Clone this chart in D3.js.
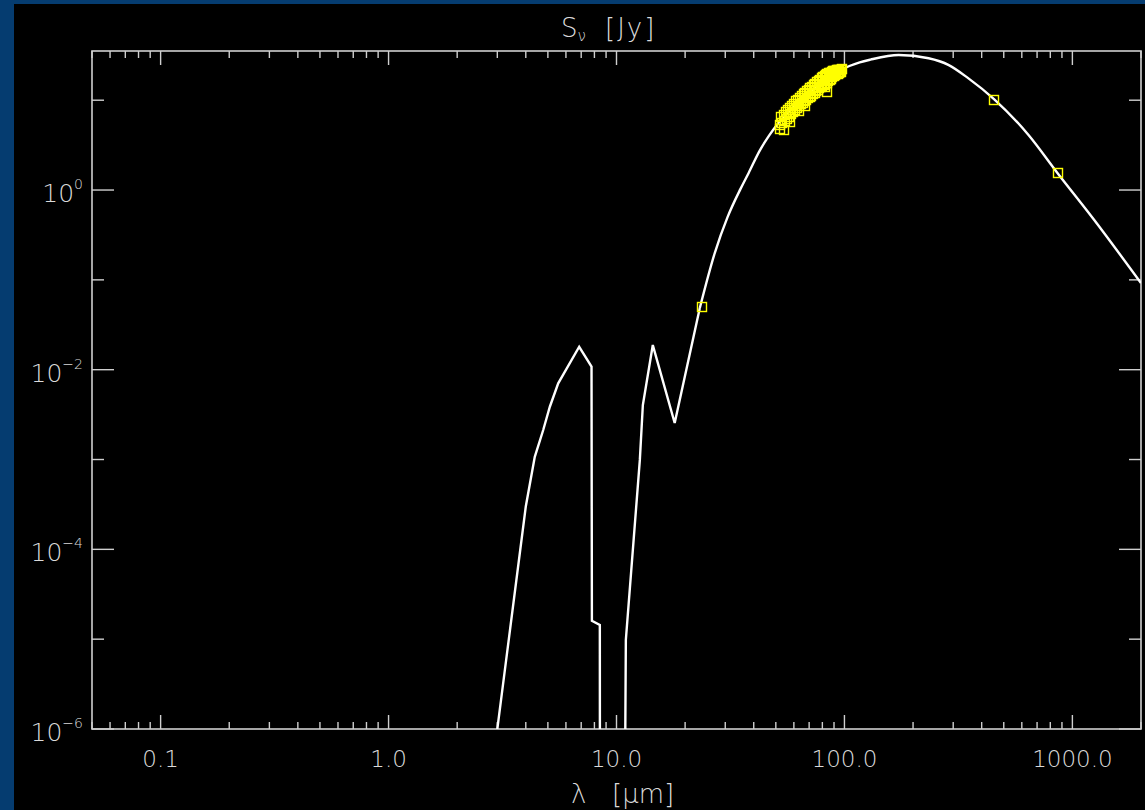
<!DOCTYPE html>
<html lang="en">
<head>
<meta charset="UTF-8">
<title>SED</title>
<script src="https://cdn.jsdelivr.net/npm/d3@7"></script>
<style>
  html, body { margin: 0; padding: 0; background: #053c70; }
  svg { display: block; }
  .lbl { font-family: "DejaVu Sans", "Liberation Sans", sans-serif; font-weight: 200; fill: #dadada; }
</style>
</head>
<body>
<svg id="chart" width="1145" height="810"></svg>
<script>
// model SED (wavelength in micron, flux in Jy)
const lambdaModel = [2.95, 3.0, 4.0, 4.38, 4.77, 5.1, 5.55, 6.86, 7.77, 7.8, 8.45, 8.47,
  10.75, 10.99, 12.66, 13.05, 14.43, 18.0, 23.2, 27.0, 30.7, 35, 38, 42.5, 46.7, 50.4, 58, 64.8, 72, 80, 90,
  97.9, 116.7, 130, 173, 234, 287, 350, 453, 642, 858, 1247, 2000];
const fluxModel = [1e-8, 1e-6, 3e-4, 1.07e-3, 2.13e-3, 3.87e-3, 7.05e-3, 1.8e-2, 1.08e-2, 1.6e-5, 1.44e-5, 1e-9,
  1e-9, 9.8e-6, 9.9e-4, 4.04e-3, 1.88e-2, 2.55e-3, 4.86e-2, 0.2, 0.5, 1.03, 1.55, 2.75, 4.03, 5.27, 7.8, 10.2, 12.8, 15.7, 19.4,
  22.1, 26.4, 28.3, 31.8, 29.3, 24.6, 17.5, 10.3, 4.1, 1.56, 0.464, 0.092];

// observed photometry (24, 450, 850 micron) and far-IR spectrum points
const lambdaObs = [23.7, 453, 858,
  52.0, 52.6, 53.2, 53.8, 54.4, 55.0, 55.6, 56.2, 56.8, 57.4, 58.0, 58.6, 59.2, 59.8, 60.4, 61.0,
  61.6, 62.2, 62.8, 63.4, 64.0, 64.6, 65.2, 65.8, 66.4, 67.0, 67.6, 68.2, 68.8, 69.4, 70.0, 70.6,
  71.2, 71.8, 72.4, 73.0, 73.6, 74.2, 74.8, 75.4, 76.0, 76.6, 77.2, 77.8, 78.4, 79.0, 79.6, 80.2,
  80.8, 81.4, 82.0, 82.6, 83.2, 83.8, 84.4, 85.0, 85.6, 86.2, 86.8, 87.4, 88.0, 88.6, 89.2, 89.8,
  90.4, 91.0, 91.6, 92.2, 92.8, 93.4, 94.0, 94.6, 95.2, 95.8, 96.4, 97.0,
  83.4, 82.0, 67.0, 62.6, 57.6, 53.8, 52.1];
const fluxObs = [0.05, 10.3, 1.56,
  5.4, 6.6, 5.7, 7.0, 6.0, 7.4, 6.3, 7.9, 6.6, 8.3, 7.2, 8.8, 7.5, 9.3, 7.9, 9.8,
  8.3, 10.3, 8.7, 10.8, 9.1, 11.3, 9.5, 11.8, 9.9, 12.3, 10.3, 12.8, 10.7, 13.3, 11.0, 13.8,
  11.4, 14.3, 11.8, 14.8, 12.3, 15.4, 12.8, 16.0, 13.2, 16.6, 13.7, 17.2, 14.1, 17.8, 14.6, 18.4,
  15.0, 18.9, 15.5, 19.4, 15.9, 19.8, 16.5, 20.2, 17.0, 20.6, 17.6, 20.9, 18.2, 21.2, 18.8, 21.4,
  19.3, 21.6, 19.7, 21.8, 20.0, 22.0, 20.4, 22.1, 20.7, 22.2, 21.0, 22.3,
  12.4, 14.1, 8.84, 7.77, 5.76, 4.66, 4.86];

const xMajor = [0.1, 1, 10, 100, 1000];
const xMajorLabels = ["0.1", "1.0", "10.0", "100.0", "1000.0"];
const yMajor = [1, 1e-2, 1e-4, 1e-6];
const yMajorExp = ["0", "\u22122", "\u22124", "\u22126"];
const yMinor = [10, 0.1, 1e-3, 1e-5];

const svg = d3.select("#chart");
const box = { left: 92, right: 1141, top: 51, bottom: 729 };

svg.append("rect").attr("x", 14).attr("y", 4).attr("width", 1131).attr("height", 806).attr("fill", "#000");

const x = d3.scaleLog().domain([0.05, 2000]).range([box.left, box.right]);
const y = d3.scaleLog().domain([1e-6, 35.3]).range([box.bottom, box.top]);

svg.append("clipPath").attr("id", "clip")
  .append("rect").attr("x", box.left).attr("y", box.top)
  .attr("width", box.right - box.left).attr("height", box.bottom - box.top);

const axisCol = "#cfcfcf";
const g = svg.append("g");
g.append("rect").attr("x", box.left).attr("y", box.top)
  .attr("width", box.right - box.left).attr("height", box.bottom - box.top)
  .attr("fill", "none").attr("stroke", axisCol).attr("stroke-width", 1.6);

// x ticks (bottom and top)
const xMinor = x.ticks().filter(v => !xMajor.some(m => Math.abs(m - v) / m < 1e-6));
function xTick(v, len) {
  g.append("line").attr("x1", x(v)).attr("x2", x(v)).attr("y1", box.bottom).attr("y2", box.bottom - len)
    .attr("stroke", axisCol).attr("stroke-width", 1.4);
  g.append("line").attr("x1", x(v)).attr("x2", x(v)).attr("y1", box.top).attr("y2", box.top + len)
    .attr("stroke", axisCol).attr("stroke-width", 1.4);
}
xMinor.forEach(v => xTick(v, 7));
xMajor.forEach(v => xTick(v, 14));
xMajor.forEach((v, i) => {
  svg.append("text").attr("class", "lbl").attr("x", x(v)).attr("y", 767)
    .attr("text-anchor", "middle").attr("font-size", 23).text(xMajorLabels[i]);
});

// y ticks (left and right)
function yTick(v, len) {
  g.append("line").attr("y1", y(v)).attr("y2", y(v)).attr("x1", box.left).attr("x2", box.left + len)
    .attr("stroke", axisCol).attr("stroke-width", 1.4);
  g.append("line").attr("y1", y(v)).attr("y2", y(v)).attr("x1", box.right).attr("x2", box.right - len)
    .attr("stroke", axisCol).attr("stroke-width", 1.4);
}
yMinor.forEach(v => yTick(v, 12));
yMajor.forEach(v => yTick(v, 22));
yMajor.forEach((v, i) => {
  const t = svg.append("text").attr("class", "lbl").attr("x", 83).attr("y", y(v) + 12)
    .attr("text-anchor", "end").attr("font-size", 25);
  t.append("tspan").text("10");
  t.append("tspan").attr("font-size", 14).attr("dy", -13).text(yMajorExp[i]);
});

// titles
const title = svg.append("text").attr("class", "lbl").attr("x", 561).attr("y", 37).attr("font-size", 26);
title.append("tspan").text("S");
title.append("tspan").attr("font-size", 15).attr("dy", 4).text("\u03bd");
title.append("tspan").attr("x", 605).attr("dy", -4).attr("letter-spacing", 2).text("[Jy]");

const xt = svg.append("text").attr("class", "lbl").attr("x", 571).attr("y", 803).attr("font-size", 26);
xt.append("tspan").text("\u03bb");
xt.append("tspan").attr("x", 612).text("[\u03bcm]");

// model curve: sharp segments in the mid-IR, smooth dust continuum beyond
const pts = lambdaModel.map((l, i) => [l, fluxModel[i]]);
const lineLin = d3.line().x(d => x(d[0])).y(d => y(d[1]));
const lineSmooth = d3.line().x(d => x(d[0])).y(d => y(d[1])).curve(d3.curveMonotoneX);
const plot = svg.append("g").attr("clip-path", "url(#clip)");
plot.append("path").attr("d", lineLin(pts.filter(d => d[0] <= 23.2)))
  .attr("fill", "none").attr("stroke", "#fff").attr("stroke-width", 2.4).attr("stroke-linejoin", "miter");
plot.append("path").attr("d", lineSmooth(pts.filter(d => d[0] >= 23.2)))
  .attr("fill", "none").attr("stroke", "#fff").attr("stroke-width", 2.4);

// observed points as open squares
const sq = 9;
plot.selectAll("rect.obs").data(lambdaObs.map((l, i) => [l, fluxObs[i]])).join("rect")
  .attr("class", "obs")
  .attr("x", d => Math.round(x(d[0]) - sq / 2) + 0.5)
  .attr("y", d => Math.round(y(d[1]) - sq / 2) + 0.5)
  .attr("width", sq).attr("height", sq)
  .attr("fill", "none").attr("stroke", "#ffff00").attr("stroke-width", 1.4);
</script>
</body>
</html>
